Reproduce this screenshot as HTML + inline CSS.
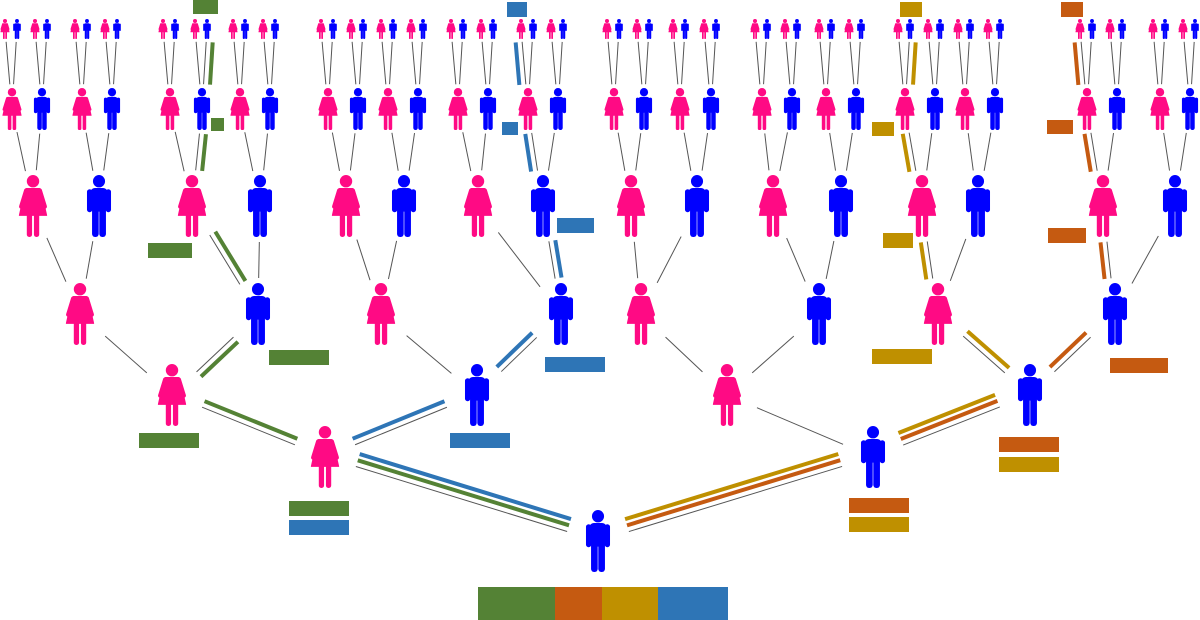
<!DOCTYPE html>
<html><head><meta charset="utf-8"><style>html,body{margin:0;padding:0;background:#fff;}svg{display:block}</style></head>
<body>
<svg id="s" xmlns="http://www.w3.org/2000/svg" width="1200" height="620" viewBox="0 0 1200 620">
<defs>
<symbol id="f" viewBox="0 0 46 100" preserveAspectRatio="none">
<circle cx="23" cy="10" r="10" fill="#ff0a84"/>
<path d="M13 21 H33 Q36 21 37 25 L46 66 H0 L9 25 Q10 21 13 21Z" fill="#ff0a84"/>
<line x1="12" y1="25" x2="4" y2="51" stroke="#ff0a84" stroke-width="7" stroke-linecap="round"/>
<line x1="34" y1="25" x2="42" y2="51" stroke="#ff0a84" stroke-width="7" stroke-linecap="round"/>
<rect x="13" y="60" width="8.5" height="40" rx="4" fill="#ff0a84"/>
<rect x="24.5" y="60" width="8.5" height="40" rx="4" fill="#ff0a84"/>
</symbol>
<symbol id="m" viewBox="0 0 40 100" preserveAspectRatio="none">
<circle cx="20" cy="10" r="10" fill="#0000ff"/>
<rect x="6" y="21" width="28" height="38" rx="7" fill="#0000ff"/>
<rect x="0" y="23" width="9" height="37" rx="4.5" fill="#0000ff"/>
<rect x="31" y="23" width="9" height="37" rx="4.5" fill="#0000ff"/>
<rect x="8.5" y="50" width="11" height="50" rx="5" fill="#0000ff"/>
<rect x="20.5" y="50" width="11" height="50" rx="5" fill="#0000ff"/>
</symbol>
</defs>
<g id="lines"></g><g id="col"></g><g id="figs"></g><g id="rects"></g>
</svg>
<script>
var NS="http://www.w3.org/2000/svg";
var gx=[[598],[325,873],[172,477,727,1030],[80,258,381,561,641,819,938,1115],
[33,99,192,260,346,404,478,543,631,697,773,841,922,978,1103,1175],
[12,42,82,112,170,202,240,270,328,358,388,418,458,488,528,558,614,644,680,711,762,792,826,856,905,935,965,995,1087,1117,1160,1190]];
var g6=[];gx[5].forEach(function(x){g6.push(x-7,x+5);});gx.push(g6);
var cy=[541,457,395,314,206,109,29];
var hh=[62,62,62,62,62,42,20];
var rx=[32,32,32,32,30,13,7], ry=[36,36,36,36,36,25,13];
function gen(i){return Math.floor(Math.log2(i));}
function pos(i){var g=gen(i);return [gx[g][i-(1<<g)],cy[g]];}
function el(t,a,p){var e=document.createElementNS(NS,t);for(var k in a)e.setAttribute(k,a[k]);document.getElementById(p).appendChild(e);return e;}
function clip(a,b,ga,gb){var dx=b[0]-a[0],dy=b[1]-a[1];
var ta=1/Math.sqrt(Math.pow(dx/rx[ga],2)+Math.pow(dy/ry[ga],2));
var tb=1/Math.sqrt(Math.pow(dx/rx[gb],2)+Math.pow(dy/ry[gb],2));
return [a[0]+dx*ta,a[1]+dy*ta,b[0]-dx*tb,b[1]-dy*tb];}
for(var i=1;i<128;i++){var g=gen(i),p=pos(i),h=hh[g];
 var fem=(i%2==0);var w=h*(fem?0.46:0.39);
 var u=el("use",{x:p[0]-w/2,y:p[1]-h/2,width:w,height:h},"figs");u.setAttribute("href",fem?"#f":"#m");
 if(g<6){for(var c=2*i;c<=2*i+1;c++){var q=pos(c);var L=clip(p,q,g,g+1);
  el("line",{x1:L[0],y1:L[1],x2:L[2],y2:L[3],stroke:"#555","stroke-width":1},"lines");}}}
var G="#548235",B="#2e75b6",Y="#bf9000",O="#c55a11";
var segs=[[1,2,G,"u",1],[2,4,G,"u",1],[4,9,G,"d",1],[9,18,G,"u",1],[18,37,G,"r",1],[37,75,G,"r",1],
[1,2,B,"u",2],[2,5,B,"u",1],[5,11,B,"u",1],[11,23,B,"r",1],[23,46,B,"l",1],[46,92,B,"l",1],
[1,3,Y,"u",2],[3,7,Y,"u",2],[7,14,Y,"u",1],[14,28,Y,"l",1],[28,56,Y,"l",1],[56,113,Y,"r",1],
[1,3,O,"u",1],[3,7,O,"u",1],[7,15,O,"u",1],[15,30,O,"l",1],[30,60,O,"l",1],[60,120,O,"l",1]];
var H={u:[0,-1],d:[0,1],l:[-1,0],r:[1,0]};
segs.forEach(function(s){var a=pos(s[0]),b=pos(s[1]);var L=clip(a,b,gen(s[0]),gen(s[1]));
 var dx=L[2]-L[0],dy=L[3]-L[1],len=Math.hypot(dx,dy);var nx=-dy/len,ny=dx/len;
 var h=H[s[3]];if(nx*h[0]+ny*h[1]<0){nx=-nx;ny=-ny;}
 var o=6.5*s[4];
 el("line",{x1:L[0]+nx*o,y1:L[1]+ny*o,x2:L[2]+nx*o,y2:L[3]+ny*o,stroke:s[2],"stroke-width":4},"col");});
var R=[[193,0,25,14,G],[211,118,13,13,G],[148,243,44,15,G],[269,350,60,15,G],[139,433,60,15,G],[289,501,60,15,G],
[507,2,20,15,B],[502,122,16,13,B],[557,218,37,15,B],[545,357,60,15,B],[450,433,60,15,B],[289,520,60,15,B],
[900,2,22,15,Y],[872,122,22,14,Y],[883,233,30,15,Y],[872,349,60,15,Y],[999,457,60,15,Y],[849,517,60,15,Y],
[1061,2,22,15,O],[1047,120,26,14,O],[1048,228,38,15,O],[1110,358,58,15,O],[999,437,60,15,O],[849,498,60,15,O],
[478,587,77,33,G],[555,587,47,33,O],[602,587,56,33,Y],[658,587,70,33,B]];
R.forEach(function(r){el("rect",{x:r[0],y:r[1],width:r[2],height:r[3],fill:r[4]},"rects");});
</script>
</body></html>
